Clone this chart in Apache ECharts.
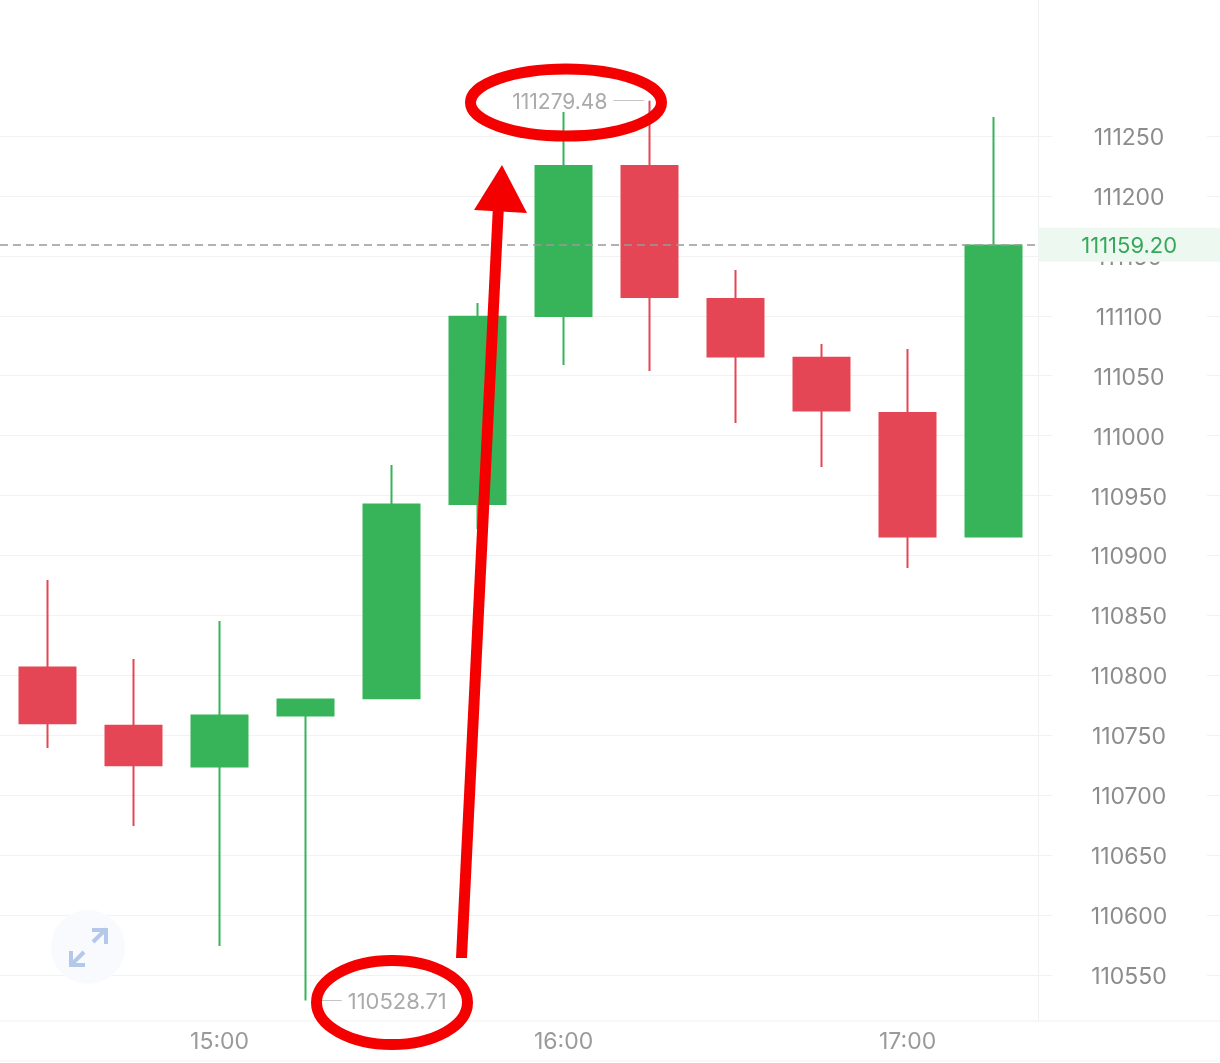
<!DOCTYPE html>
<html>
<head>
    <meta charset="utf-8" />
    <script src="https://cdn.jsdelivr.net/npm/echarts@6/dist/echarts.min.js"></script>
    <style>
        html, body { margin: 0; padding: 0; background: #fff; }
        #main { width: 1220px; height: 1063px; }
    </style>
</head>
<body>
    <div id="main"></div>
    <script type="text/javascript">
        // 15 minute candles
        var times = ['14:30', '14:45', '15:00', '15:15', '15:30', '15:45', '16:00', '16:15', '16:30', '16:45', '17:00', '17:15'];
        var opens = [110806.5, 110758, 110724, 110766.5, 110780.8, 110943, 111099.8, 111225, 111114, 111065, 111019, 110915.8];
        var closes = [110760, 110725, 110766.5, 110779.8, 110942.5, 111099.2, 111225, 111115.7, 111066, 111021, 110915.8, 111158.7];
        var lows = [110739.4, 110674.3, 110574.2, 110528.71, 110780.3, 110922.1, 111058.9, 111053.9, 111010.6, 110973.8, 110889.6, 110915.4];
        var highs = [110879.6, 110813.7, 110845.4, 110780.3, 110975.5, 111110.7, 111270, 111279.48, 111138.2, 111076.5, 111072.3, 111265.9];

        var yTicks = [110550, 110600, 110650, 110700, 110750, 110800, 110850, 110900, 110950, 111000, 111050, 111100, 111150, 111200, 111250];
        var xTicks = ['15:00', '16:00', '17:00'];
        var lastPrice = 111159.20;
        var highPrice = 111279.48;
        var lowPrice = 110528.71;

        var GREEN = '#37b45a', RED = '#e54655';
        var GRID_LINE = '#f2f2f2';

        // x axis is minutes since midnight
        function t(str, addMin) {
            var p = str.split(':');
            return +p[0] * 60 + +p[1] + (addMin || 0);
        }
        function pad(n) { return n < 10 ? '0' + n : '' + n; }

        var candles = [];
        for (var i = 0; i < times.length; i++) {
            candles.push([t(times[i]), opens[i], closes[i], lows[i], highs[i]]);
        }

        var xMin = t('15:00', -38.3), xMax = t('15:00', 145.2);
        var yMin = 110511.6, yMax = 111363.5;

        var myChart = echarts.init(document.getElementById('main'));
        var option = {
            animation: false,
            backgroundColor: '#fff',
            textStyle: { fontFamily: 'Inter' },
            grid: [
                { left: 0, right: 168, top: 0, bottom: 42 },
                { left: 1207, right: 0, top: 0, bottom: 42 }
            ],
            xAxis: [{
                type: 'value',
                gridIndex: 0,
                min: xMin,
                max: xMax,
                axisLine: { show: false },
                axisTick: { show: false, customValues: xTicks.map(function (s) { return t(s); }) },
                splitLine: { show: false },
                axisLabel: {
                    customValues: xTicks.map(function (s) { return t(s); }),
                    color: '#9a9a9a',
                    fontSize: 23,
                    fontFamily: 'Inter',
                    margin: 10,
                    formatter: function (v) {
                        return pad(Math.floor(v / 60)) + ':' + pad(v % 60);
                    }
                }
            }, {
                type: 'value',
                gridIndex: 1,
                min: 0,
                max: 1,
                show: false
            }],
            yAxis: [{
                type: 'value',
                gridIndex: 0,
                position: 'right',
                min: yMin,
                max: yMax,
                axisLine: { show: false },
                axisTick: { show: false, customValues: yTicks },
                splitLine: { show: true, lineStyle: { color: GRID_LINE, width: 1 } },
                axisLabel: {
                    customValues: yTicks,
                    color: '#8c8c8c',
                    fontSize: 23,
                    fontFamily: 'Inter',
                    align: 'center',
                    margin: 77,
                    formatter: function (v) { return '{a|' + v + '}'; },
                    rich: { a: { color: '#8c8c8c', fontSize: 23, fontFamily: 'Inter', padding: [4, 0, 0, 0] } }
                }
            }, {
                type: 'value',
                gridIndex: 1,
                min: yMin,
                max: yMax,
                axisLine: { show: false },
                axisLabel: { show: false },
                axisTick: { show: false, customValues: yTicks },
                splitLine: { show: true, lineStyle: { color: GRID_LINE, width: 1 } }
            }],
            series: [{
                type: 'candlestick',
                xAxisIndex: 0,
                yAxisIndex: 0,
                barWidth: 56,
                encode: { x: 0, y: [1, 2, 3, 4] },
                data: candles,
                itemStyle: {
                    color: GREEN,
                    color0: RED,
                    borderColor: GREEN,
                    borderColor0: RED,
                    borderWidth: 2
                },
                markLine: {
                    silent: true,
                    symbol: 'none',
                    animation: false,
                    data: [
                        // last price
                        [{
                            coord: [xMin, lastPrice],
                            lineStyle: { color: '#999', type: [8, 5], width: 1.5 }
                        }, {
                            coord: [t('15:00', 142.8), lastPrice],
                            label: {
                                show: true,
                                position: 'end',
                                distance: 0,
                                align: 'left',
                                verticalAlign: 'middle',
                                formatter: '{a|' + lastPrice.toFixed(2) + '}',
                                padding: [3, 43, 3, 43],
                                backgroundColor: '#edf8f0',
                                rich: { a: { color: '#37a85a', fontSize: 22, fontFamily: 'Inter', width: 96, height: 28, lineHeight: 28, padding: [4, 0, 0, 0] } }
                            }
                        }],
                        // high
                        [{
                            coord: [t('16:15', -1), highPrice],
                            lineStyle: { color: '#c4c4c4', type: 'solid', width: 1 }
                        }, {
                            coord: [t('16:15', -6.3), highPrice],
                            label: {
                                show: true,
                                position: 'end',
                                distance: 6,
                                formatter: '{a|' + highPrice.toFixed(2) + '}',
                                align: 'right',
                                verticalAlign: 'middle',
                                rich: { a: { color: '#aaaaaa', fontSize: 21, fontFamily: 'Inter', padding: [4, 0, 0, 0] } }
                            }
                        }],
                        // low
                        [{
                            coord: [t('15:15', 2.6), lowPrice],
                            lineStyle: { color: '#c4c4c4', type: 'solid', width: 1 }
                        }, {
                            coord: [t('15:15', 6.3), lowPrice],
                            label: {
                                show: true,
                                position: 'end',
                                distance: 6,
                                formatter: '{a|' + lowPrice.toFixed(2) + '}',
                                align: 'left',
                                verticalAlign: 'middle',
                                rich: { a: { color: '#aaaaaa', fontSize: 22, fontFamily: 'Inter', padding: [4, 0, 0, 0] } }
                            }
                        }],
                        // price column border
                        [{
                            coord: [t('15:00', 142.8), yMin],
                            lineStyle: { color: '#f0f0f0', type: 'solid', width: 1 }
                        }, {
                            coord: [t('15:00', 142.8), yMax]
                        }]
                    ]
                }
            }],
            graphic: [
                // bottom rules
                { type: 'line', z: 1, shape: { x1: 0, y1: 1021, x2: 1220, y2: 1021 }, style: { stroke: '#efefef', lineWidth: 1 } },
                { type: 'line', z: 1, shape: { x1: 0, y1: 1061, x2: 1220, y2: 1061 }, style: { stroke: '#f2f2f2', lineWidth: 1 } },
                // expand button
                { type: 'circle', z: 3, shape: { cx: 88, cy: 947, r: 37 }, style: { fill: '#f8fafe' } },
                { type: 'polyline', z: 4, shape: { points: [[93, 942], [106, 929]] }, style: { stroke: '#b4c9ea', lineWidth: 4, fill: null } },
                { type: 'polyline', z: 4, shape: { points: [[92, 930], [106, 930], [106, 944]] }, style: { stroke: '#b4c9ea', lineWidth: 4, fill: null } },
                { type: 'polyline', z: 4, shape: { points: [[84, 952], [71, 965]] }, style: { stroke: '#b4c9ea', lineWidth: 4, fill: null } },
                { type: 'polyline', z: 4, shape: { points: [[71, 951], [71, 965], [85, 965]] }, style: { stroke: '#b4c9ea', lineWidth: 4, fill: null } },
                // hand drawn annotations
                { type: 'ellipse', z: 10, shape: { cx: 566, cy: 102.5, rx: 95.5, ry: 33.5 }, style: { stroke: '#f50000', lineWidth: 11, fill: null } },
                { type: 'ellipse', z: 10, shape: { cx: 392, cy: 1002.5, rx: 75.5, ry: 42 }, style: { stroke: '#f50000', lineWidth: 11, fill: null } },
                { type: 'polygon', z: 10, shape: { points: [[456, 958], [467, 958], [504, 205], [493, 205]] }, style: { fill: '#f50000' } },
                { type: 'polygon', z: 10, shape: { points: [[502, 165], [474, 210], [527, 213]] }, style: { fill: '#f50000' } }
            ]
        };
        myChart.setOption(option);
    </script>
</body>
</html>
